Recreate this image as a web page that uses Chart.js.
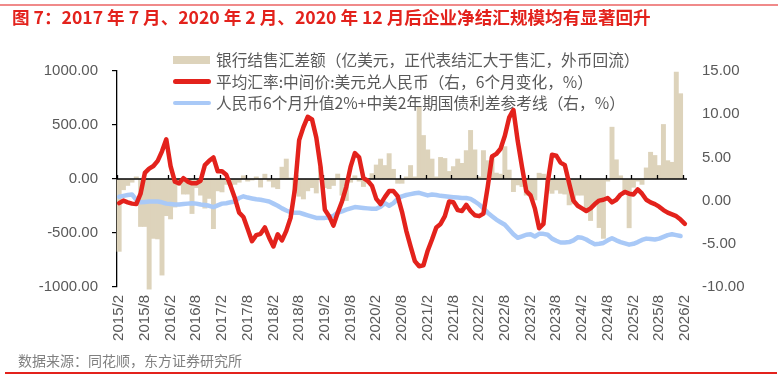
<!DOCTYPE html>
<html><head><meta charset="utf-8">
<script src="https://cdn.jsdelivr.net/npm/chart.js@4.4.1/dist/chart.umd.min.js"></script>
<style>
html,body{margin:0;padding:0;background:#fff;}
#wrap{position:relative;width:782px;height:379px;overflow:hidden;}
#c{position:absolute;left:0;top:0;}
.topline{position:absolute;left:0;top:4px;width:778px;height:2px;background:#f08a8a;}
.title{position:absolute;left:12px;top:6px;line-height:22px;font-size:17.6px;font-weight:bold;color:#e3221c;font-family:"Noto Sans CJK SC",sans-serif;white-space:nowrap;}
.legend{position:absolute;left:173px;top:49px;font-family:"Noto Sans CJK SC",sans-serif;font-size:15.7px;color:#595959;}
.row{position:relative;height:21.5px;line-height:21.5px;white-space:nowrap;}
.sym{position:absolute;left:0;}
.txt{position:absolute;left:43px;top:0;}
.src{position:absolute;left:18px;top:350px;font-family:"Noto Sans CJK SC",sans-serif;font-size:14px;line-height:20px;color:#808080;white-space:nowrap;}
.botline{position:absolute;left:5px;top:372px;width:772px;height:1.5px;background:#e3221c;}
</style></head>
<body><div id="wrap">
<canvas id="c" width="782" height="379"></canvas>
<div class="topline"></div>
<div class="title">图 7：2017 年 7 月、2020 年 2 月、2020 年 12 月后企业净结汇规模均有显著回升</div>
<div class="legend">
 <div class="row"><div class="sym" style="top:7px;width:37px;height:8px;background:#ddd3bb"></div><div class="txt">银行结售汇差额（亿美元，正代表结汇大于售汇，外币回流）</div></div>
 <div class="row"><div class="sym" style="top:8.5px;width:38px;height:4.6px;border-radius:3px;background:#e3221c"></div><div class="txt">平均汇率:中间价:美元兑人民币（右，6个月变化，%）</div></div>
 <div class="row"><div class="sym" style="top:8.5px;width:38px;height:4.6px;border-radius:3px;background:#a9c9f7"></div><div class="txt">人民币6个月升值2%+中美2年期国债利差参考线（右，%）</div></div>
</div>
<div class="src">数据来源：同花顺，东方证券研究所</div>
<div class="botline"></div>
</div>
<script>
// categories: monthly 2015/2 .. 2026/2
const startYear = 2015, startMonth = 2, monthCount = 133;
const months = [];
for (let k = 0; k < monthCount; k++) {
  const m = startMonth - 1 + k;
  months.push((startYear + Math.floor(m / 12)) + '/' + (m % 12 + 1));
}
// 银行结售汇差额 (亿美元), left axis
const netSettlement = [
 -670,-100,-60,-30,20,-440,-440,-1020,-550,-555,-890,-340,-370,-260,-60,-140,-140,-320,-80,-150,
 -270,-180,-460,-110,-120,-50,-60,-50,-30,30,-20,-10,20,-75,45,-20,-75,-90,110,185,
 10,-130,-160,-185,-110,-80,-130,110,-80,-90,-60,46,-150,-200,-30,30,-20,-70,-40,50,
 130,185,125,235,90,-40,-40,20,125,20,665,403,270,185,20,200,190,70,115,185,
 145,263,450,270,20,263,170,200,55,45,300,83,-117,-55,-70,-150,-150,-194,54,45,
 -110,-133,-102,-133,-140,-240,-230,-150,-150,-300,-385,-230,-450,-550,-20,480,178,30,-108,-452,
 -77,-20,-50,103,248,218,125,505,170,155,990,790,null
];
// 平均汇率:中间价:美元兑人民币 6个月变化 (%), right axis
const cnyChange6m = [
 -0.3,0.0,-0.2,-0.35,-0.4,0.8,3.2,3.7,4.0,4.6,5.7,7.1,4.0,2.2,2.0,2.6,2.2,2.0,2.0,2.3,
 4.1,4.6,5.0,3.4,3.4,3.0,1.7,0.3,-1.4,-1.9,-3.3,-4.7,-4.0,-3.85,-3.1,-4.3,-5.3,-3.9,-4.6,-3.5,
 -2.0,1.3,7.0,8.5,9.7,9.4,7.3,3.9,-1.05,-1.8,-2.9,-1.4,-0.1,1.6,3.9,5.5,5.0,2.6,2.3,1.7,
 0.2,-0.4,0.4,1.1,1.1,0.5,-1.3,-3.5,-5.3,-7.0,-7.6,-7.5,-5.8,-4.5,-3.1,-2.7,-1.8,-0.1,-0.2,-1.1,
 -1.2,-0.5,-1.2,-1.7,-1.8,-1.5,1.6,5.1,5.4,6.0,7.5,9.6,10.5,6.9,3.9,1.1,0.6,-0.9,-3.2,-2.7,
 2.1,5.3,5.2,4.4,4.1,2.0,0.0,-0.6,-0.9,-1.2,-0.9,-0.4,0.0,0.1,0.3,-0.2,0.1,0.7,1.0,0.8,
 0.7,1.3,0.8,0.1,-0.2,-0.4,-0.7,-1.1,-1.4,-1.6,-1.8,-2.2,-2.7
];
// 人民币6个月升值2%+中美2年期国债利差参考线 (%), right axis
const refLine = [
 0.45,0.55,0.65,0.7,0.1,-0.2,-0.15,-0.1,-0.1,-0.1,-0.2,-0.35,-0.4,-0.45,-0.45,-0.4,-0.35,-0.3,-0.35,-0.45,
 -0.5,-0.6,-0.75,-0.55,-0.35,-0.3,-0.2,-0.1,0.3,0.5,0.35,0.25,0.15,0.1,0.0,-0.1,-0.35,-0.6,-0.9,-1.15,
 -1.35,-1.4,-1.4,-1.55,-1.7,-1.85,-2.0,-2.0,-2.0,-1.95,-1.75,-1.4,-1.25,-1.05,-0.9,-0.75,-0.8,-0.85,-0.9,-0.95,
 -0.95,-0.7,-0.3,-0.6,-0.3,0.2,0.5,0.65,0.75,0.85,0.9,0.75,0.6,0.7,0.65,0.55,0.5,0.45,0.4,0.35,
 0.3,0.3,0.2,-0.1,-0.45,-0.9,-1.4,-1.8,-2.2,-2.5,-2.8,-3.35,-3.9,-4.3,-4.15,-3.95,-3.9,-4.15,-3.85,-3.85,
 -3.95,-4.4,-4.65,-4.85,-4.85,-4.8,-4.6,-4.25,-4.3,-4.5,-4.8,-5.05,-5.0,-4.9,-4.6,-4.35,-4.6,-4.8,-4.95,-5.1,
 -5.0,-4.8,-4.55,-4.4,-4.45,-4.5,-4.4,-4.2,-4.0,-3.9,-4.0,-4.1,null
];
const leftTicks = [-1000, 1000, 500];   // min, max, step
const rightTicks = [-10, 15, 5];
const labelEvery = 6;

Chart.defaults.font.family = "'Liberation Sans','Noto Sans CJK SC',sans-serif";
Chart.defaults.color = '#595959';

const zeroAxis = {
  id: 'zeroAxis',
  afterDatasetDraw(chart, args) {
    if (args.index !== 0) return;
    const ctx = chart.ctx, xs = chart.scales.x, y = chart.scales.y.getPixelForValue(0);
    const half = (xs.getPixelForValue(1) - xs.getPixelForValue(0)) / 2;
    ctx.save();
    ctx.strokeStyle = '#000'; ctx.lineWidth = 1.3;
    ctx.beginPath();
    ctx.moveTo(chart.chartArea.left, y); ctx.lineTo(chart.chartArea.right, y);
    for (let k = 0; k < months.length; k += labelEvery) {
      const px = Math.round(xs.getPixelForValue(k) - half) + 0.5;
      ctx.moveTo(px, y); ctx.lineTo(px, y - 4);
    }
    ctx.stroke();
    ctx.restore();
  }
};

new Chart(document.getElementById('c'), {
  type: 'bar',
  data: {
    labels: months,
    datasets: [
      { type: 'bar', data: netSettlement, yAxisID: 'y', backgroundColor: '#ddd3bb',
        barPercentage: 1, categoryPercentage: 1, borderWidth: 0, order: 3, clip: 6 },
      { type: 'line', data: refLine, yAxisID: 'y1', borderColor: '#a9c9f7', borderWidth: 4.5,
        pointRadius: 0, tension: 0, borderJoinStyle: 'round', borderCapStyle: 'round', order: 2, spanGaps: false },
      { type: 'line', data: cnyChange6m, yAxisID: 'y1', borderColor: '#e3221c', borderWidth: 4.5,
        pointRadius: 0, tension: 0, borderJoinStyle: 'round', borderCapStyle: 'round', order: 1 }
    ]
  },
  options: {
    responsive: false, animation: false, devicePixelRatio: 1,
    layout: { padding: { top: 71, left: 0, right: 0, bottom: 0 } },
    plugins: { legend: { display: false }, tooltip: { enabled: false } },
    scales: {
      x: {
        offset: true,
        grid: { display: false, drawTicks: false },
        border: { display: false },
        ticks: { autoSkip: false, minRotation: 90, maxRotation: 90, padding: 8,
          font: { size: 15 }, color: '#595959',
          callback: (v, i) => (i % labelEvery === 0 ? months[i] : '') },
        afterFit: s => { s.height = 92; }
      },
      y: {
        position: 'left', min: leftTicks[0], max: leftTicks[1],
        grid: { drawOnChartArea: false, drawTicks: true, tickLength: 5, color: '#000', lineWidth: 1.2 },
        border: { display: true, color: '#000', width: 1.3 },
        ticks: { stepSize: leftTicks[2], padding: 14, font: { size: 15 }, color: '#595959',
          callback: v => v.toFixed(2) },
        afterFit: s => { s.width = 117; }
      },
      y1: {
        position: 'right', min: rightTicks[0], max: rightTicks[1],
        grid: { display: false, drawTicks: false },
        border: { display: false },
        ticks: { stepSize: rightTicks[2], padding: 15, font: { size: 15 }, color: '#595959',
          callback: v => v.toFixed(2) },
        afterFit: s => { s.width = 95; }
      }
    }
  },
  plugins: [zeroAxis]
});
</script>
</body></html>
